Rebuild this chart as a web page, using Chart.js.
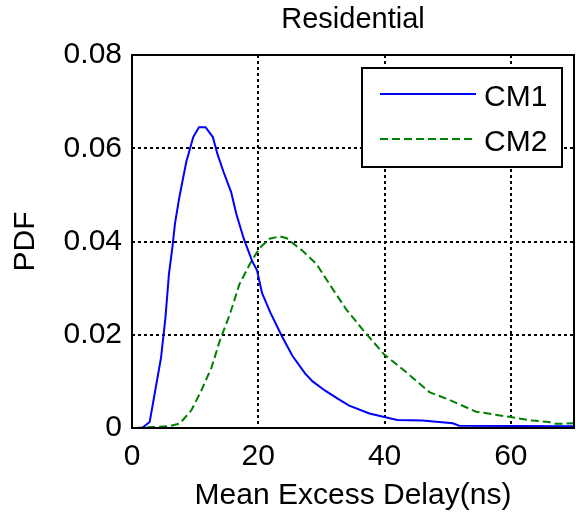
<!DOCTYPE html>
<html lang="en">
<head>
  <meta charset="UTF-8" />
  <title>Residential</title>
  <style>
    body {
      margin: 0;
      background: #ffffff;
    }
    #wrap {
      width: 576px;
      height: 516px;
    }
  </style>
</head>
<body>
  <div id="wrap"><canvas id="pdfChart" width="576" height="516"></canvas></div>

  <script src="https://cdn.jsdelivr.net/npm/chart.js"></script>
  <script>
    // values
    const chartTitle = "Residential";
    const xTitle = "Mean Excess Delay(ns)";
    const yTitle = "PDF";
    const xTicks = [0, 20, 40, 60];
    const yTicks = [0, 0.02, 0.04, 0.06, 0.08];

    const cm1Delay = [0.5, 1.6, 2.8, 4.6, 5.3, 5.85, 6.4, 6.8, 7.5, 8.6, 9.7, 10.6, 11.65, 12.8, 13.5, 14.5, 15.7, 16.5, 17.7, 19.0, 19.8, 20.6, 21.9, 23.7, 25.4, 27.4, 28.6, 30.6, 32.7, 34.4, 37.6, 40.8, 42.0, 46.0, 50.8, 51.8, 70];
    const cm1Pdf = [0, 0, 0.0013, 0.0151, 0.0237, 0.033, 0.0388, 0.0438, 0.0495, 0.0571, 0.0624, 0.0645, 0.0645, 0.0624, 0.0589, 0.0549, 0.0506, 0.046, 0.0406, 0.0359, 0.0338, 0.0289, 0.0248, 0.0198, 0.0155, 0.0117, 0.01, 0.008, 0.0062, 0.0048, 0.0031, 0.0021, 0.0017, 0.0016, 0.001, 0.0005, 0.0004];

    const cm2Delay = [0.5, 6.0, 7.6, 9.4, 11.0, 12.6, 13.9, 15.5, 17.0, 18.6, 20.2, 21.8, 23.4, 24.5, 27.1, 29.2, 31.3, 33.9, 36.6, 40.0, 43.4, 47.1, 50.3, 54.5, 59.7, 63.4, 66.0, 67.1, 70];
    const cm2Pdf = [0, 0.0004, 0.001, 0.0038, 0.0081, 0.013, 0.0187, 0.0244, 0.0308, 0.035, 0.0386, 0.0406, 0.0411, 0.0407, 0.0379, 0.0352, 0.0308, 0.0255, 0.021, 0.0157, 0.012, 0.0077, 0.006, 0.0035, 0.0024, 0.0016, 0.0013, 0.0009, 0.001];

    const seriesNames = ["CM1", "CM2"];
    const seriesColors = ["#0000ff", "#008000"];

    const fontFamily = "'Liberation Sans', Arial, sans-serif";
    const fontSize = 30;

    const toPoints = (xs, ys) => xs.map((x, i) => ({ x: x, y: ys[i] }));

    // frame, title and the boxed legend drawn like the matlab figure
    const figureDecor = {
      id: "figureDecor",
      afterDraw(chart) {
        const { ctx, chartArea } = chart;
        ctx.save();

        ctx.strokeStyle = "#000";
        ctx.lineWidth = 2;
        ctx.setLineDash([]);
        ctx.strokeRect(chartArea.left, chartArea.top, chartArea.right - chartArea.left, chartArea.bottom - chartArea.top);

        ctx.fillStyle = "#000";
        ctx.font = "29px " + fontFamily;
        ctx.textAlign = "center";
        ctx.textBaseline = "middle";
        ctx.fillText(chartTitle, (chartArea.left + chartArea.right) / 2, 20);

        // legend box
        const bx = 362, by = 68, bw = 200, bh = 99;
        ctx.fillStyle = "#fff";
        ctx.fillRect(bx, by, bw, bh);
        ctx.lineWidth = 2;
        ctx.strokeRect(bx, by, bw, bh);

        ctx.font = fontSize + "px " + fontFamily;
        const rows = [94, 139];
        chart.data.datasets.forEach((ds, i) => {
          ctx.strokeStyle = ds.borderColor;
          ctx.lineWidth = 2;
          ctx.setLineDash(ds.borderDash || []);
          ctx.beginPath();
          ctx.moveTo(380, rows[i]);
          ctx.lineTo(476, rows[i]);
          ctx.stroke();
          ctx.setLineDash([]);
          ctx.fillStyle = "#000";
          ctx.textAlign = "left";
          ctx.fillText(ds.label, 484, rows[i] + 4);
        });

        ctx.restore();
      }
    };

    const ctx = document.getElementById("pdfChart").getContext("2d");

    new Chart(ctx, {
      type: "line",
      data: {
        datasets: [
          {
            label: seriesNames[0],
            data: toPoints(cm1Delay, cm1Pdf),
            borderColor: seriesColors[0],
            borderWidth: 2,
            pointRadius: 0,
            tension: 0,
            fill: false
          },
          {
            label: seriesNames[1],
            data: toPoints(cm2Delay, cm2Pdf),
            borderColor: seriesColors[1],
            borderWidth: 2,
            borderDash: [8, 4],
            pointRadius: 0,
            tension: 0,
            fill: false
          }
        ]
      },
      options: {
        responsive: false,
        animation: false,
        layout: { padding: { top: 55, right: 2, left: 0, bottom: 0 } },
        plugins: {
          legend: { display: false },
          title: { display: false },
          tooltip: { enabled: false }
        },
        scales: {
          x: {
            type: "linear",
            min: 0,
            max: 70,
            afterBuildTicks: (scale) => {
              scale.ticks = xTicks.map(v => ({ value: v }));
            },
            afterFit: (scale) => { scale.height = 88; },
            ticks: {
              color: "#000",
              padding: 11,
              font: { family: fontFamily, size: fontSize }
            },
            grid: { color: "#000", lineWidth: 2, drawTicks: false },
            border: { display: false, dash: [3, 3] },
            title: {
              display: true,
              text: xTitle,
              color: "#000",
              padding: { top: 0, bottom: 2 },
              font: { family: fontFamily, size: fontSize }
            }
          },
          y: {
            min: 0,
            max: 0.08,
            afterBuildTicks: (scale) => {
              scale.ticks = yTicks.map(v => ({ value: v }));
            },
            afterFit: (scale) => { scale.width = 132; },
            ticks: {
              color: "#000",
              padding: 10,
              font: { family: fontFamily, size: fontSize },
              callback: (v) => (v === 0 ? "0" : v.toFixed(2))
            },
            grid: { color: "#000", lineWidth: 2, drawTicks: false },
            border: { display: false, dash: [3, 3] },
            title: {
              display: true,
              text: yTitle,
              color: "#000",
              padding: { top: 8, bottom: 0 },
              font: { family: fontFamily, size: fontSize }
            }
          }
        }
      },
      plugins: [figureDecor]
    });
  </script>
</body>
</html>
